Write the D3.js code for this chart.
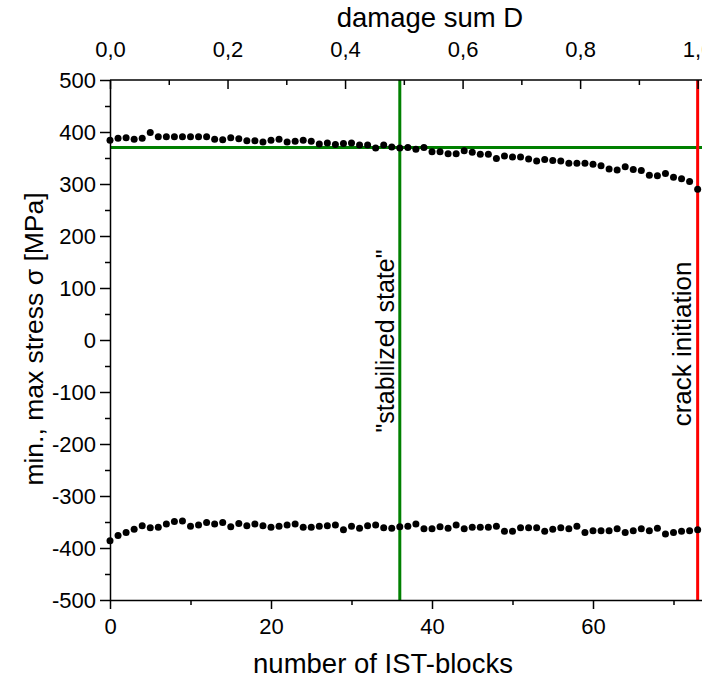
<!DOCTYPE html>
<html><head><meta charset="utf-8">
<script src="https://cdn.jsdelivr.net/npm/d3@7"></script>
<style>html,body{margin:0;padding:0;background:#fff;overflow:hidden}</style>
</head><body>
<svg id="c" width="702" height="681"></svg>
<script>
const blocks = [0,1,2,3,4,5,6,7,8,9,10,11,12,13,14,15,16,17,18,19,20,21,22,23,24,25,26,27,28,29,30,31,32,33,34,35,36,37,38,39,40,41,42,43,44,45,46,47,48,49,50,51,52,53,54,55,56,57,58,59,60,61,62,63,64,65,66,67,68,69,70,71,72,73];
const maxStress = [384,388,389,386,388,399,391,391,391,391,391,391,391,386,385,389,387,383,383,381,384,386,381,382,384,382,377,379,376,378,379,375,375,369,375,371,369,370,367,370,362,362,358,358,364,361,357,357,349,354,352,352,348,344,347,345,344,340,340,340,338,335,329,327,333,328,326,317,316,320,313,310,305,290];
const minStress = [-386,-376,-370,-364,-357,-361,-360,-354,-349,-348,-358,-356,-351,-354,-351,-359,-353,-357,-354,-357,-360,-358,-356,-354,-360,-360,-358,-357,-356,-365,-358,-362,-357,-356,-361,-362,-359,-358,-354,-363,-363,-359,-362,-356,-363,-360,-360,-360,-358,-368,-368,-361,-361,-361,-368,-364,-361,-363,-358,-370,-367,-367,-367,-363,-370,-367,-363,-367,-362,-373,-370,-368,-367,-365];
const xTicks = [0,20,40,60];
const xMinor = [10,30,50,70];
const yTicks = [-500,-400,-300,-200,-100,0,100,200,300,400,500];
const yMinor = [-450,-350,-250,-150,-50,50,150,250,350,450];
const dTicks = [0,0.2,0.4,0.6,0.8,1.0];
const dMinor = [0.1,0.3,0.5,0.7,0.9];
const stabilizedBlock = 36;
const crackBlock = 73;
const stabilizedStress = 370;
const labels = {top:"damage sum D", bottom:"number of IST-blocks", left:"min., max stress σ [MPa]", stab:"\"stabilized state\"", crack:"crack initiation"};

const svg = d3.select("#c");
const L = 110, T = 80, B = 600;
const x = d3.scaleLinear().domain([0, 80]).range([L, L + 80*8.05]);
const R = x(80);
const y = d3.scaleLinear().domain([-500, 500]).range([B, T]);
const xd = d3.scaleLinear().domain([0, 1]).range([x(0), x(crackBlock)]);
const font = "Liberation Sans, Arial, sans-serif";
const tickFs = 22, titleFs = 27.5;

// reference lines
svg.append("line").attr("x1", x(0)).attr("x2", R).attr("y1", y(stabilizedStress)).attr("y2", y(stabilizedStress))
  .attr("stroke", "#008000").attr("stroke-width", 3);
svg.append("line").attr("x1", x(stabilizedBlock)).attr("x2", x(stabilizedBlock)).attr("y1", T).attr("y2", B)
  .attr("stroke", "#008000").attr("stroke-width", 3);
svg.append("line").attr("x1", x(crackBlock)).attr("x2", x(crackBlock)).attr("y1", T).attr("y2", B)
  .attr("stroke", "#ff0000").attr("stroke-width", 3);

// axes
function styleAxis(g){ g.selectAll("path,line").attr("stroke","#000").attr("stroke-width",1.5);
  g.selectAll("text").attr("font-family", font).attr("font-size", tickFs).attr("fill","#000"); }

const gB = svg.append("g").attr("transform", `translate(0,${B})`)
  .call(d3.axisBottom(x).tickValues(xTicks).tickSize(9).tickSizeOuter(0).tickPadding(9).tickFormat(d3.format("d")));
styleAxis(gB);
svg.append("g").attr("transform", `translate(0,${B})`)
  .call(d3.axisBottom(x).tickValues(xMinor).tickSize(5).tickFormat("")).call(g=>{g.select("path").remove(); styleAxis(g);});

const gL = svg.append("g").attr("transform", `translate(${L},0)`)
  .call(d3.axisLeft(y).tickValues(yTicks).tickSize(10).tickSizeOuter(0).tickPadding(4).tickFormat(d3.format("d")));
styleAxis(gL);
gL.selectAll("text").text(d => d < 0 ? "-" + Math.abs(d) : d);
svg.append("g").attr("transform", `translate(${L},0)`)
  .call(d3.axisLeft(y).tickValues(yMinor).tickSize(5).tickFormat("")).call(g=>{g.select("path").remove(); styleAxis(g);});

const commaFmt = d => d3.format(".1f")(d).replace(".", ",");
const gT = svg.append("g").attr("transform", `translate(0,${T})`)
  .call(d3.axisTop(xd).tickValues(dTicks).tickSize(-9).tickSizeOuter(0).tickPadding(0).tickFormat(commaFmt));
styleAxis(gT);
gT.selectAll("text").attr("dy", "0").attr("y", -23);
gT.select("path").attr("d", `M${L},0H${R}`);
svg.append("g").attr("transform", `translate(0,${T})`)
  .call(d3.axisTop(xd).tickValues(dMinor).tickSize(-5).tickFormat("")).call(g=>{g.select("path").remove(); styleAxis(g);});

// data
const pts = blocks.map((b,i)=>({b, v:maxStress[i]})).concat(blocks.map((b,i)=>({b, v:minStress[i]})));
svg.append("g").selectAll("circle").data(pts).join("circle")
  .attr("cx", d=>x(d.b)).attr("cy", d=>y(d.v)).attr("r", 3.5).attr("fill", "#000");

// titles
svg.append("text").attr("x", 430).attr("y", 27).attr("text-anchor","middle")
  .attr("font-family", font).attr("font-size", titleFs).text(labels.top);
svg.append("text").attr("x", 383).attr("y", 673).attr("text-anchor","middle")
  .attr("font-family", font).attr("font-size", titleFs).text(labels.bottom);
svg.append("text").attr("transform", `translate(43,${339}) rotate(-90)`).attr("text-anchor","middle")
  .attr("font-family", font).attr("font-size", 26.5).text(labels.left);

svg.append("text").attr("transform", `translate(${x(stabilizedBlock)-6},${341}) rotate(-90)`).attr("text-anchor","middle")
  .attr("font-family", font).attr("font-size", 25).text(labels.stab);
svg.append("text").attr("transform", `translate(${x(crackBlock)-7},${344}) rotate(-90)`).attr("text-anchor","middle")
  .attr("font-family", font).attr("font-size", 26).text(labels.crack);
</script>
</body></html>
